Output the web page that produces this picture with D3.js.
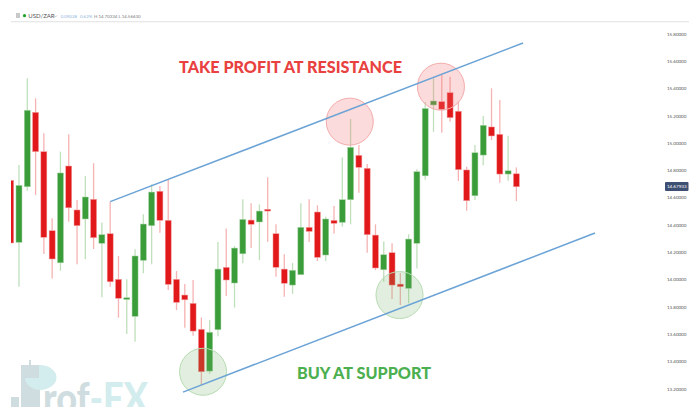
<!DOCTYPE html>
<html><head><meta charset="utf-8">
<script src="https://cdn.jsdelivr.net/npm/d3@7/dist/d3.min.js"></script>
<style>html,body{margin:0;padding:0;background:#fff;overflow:hidden}svg{display:block}</style>
</head><body><svg id="c" width="700" height="418"></svg>
<script>
const bodyTops=[14.726,14.689,15.239,15.224,14.936,14.357,14.780,14.831,14.509,14.604,14.587,14.328,14.335,14.001,13.866,14.172,14.406,14.640,14.646,14.433,14.001,13.886,13.825,13.635,13.613,14.076,14.089,14.230,14.440,14.435,14.501,14.514,14.335,14.076,14.067,14.382,14.382,14.494,14.443,14.433,14.584,14.968,14.909,14.814,14.325,14.181,14.196,13.966,14.296,14.789,15.252,15.307,15.302,15.368,15.232,14.802,14.928,15.129,15.117,15.063,14.796,14.774];
const bodyBottoms=[14.267,14.272,14.679,14.936,14.309,14.150,14.122,14.525,14.394,14.443,14.306,14.265,13.983,13.862,13.854,13.730,14.140,14.394,14.433,13.964,13.832,13.851,13.622,13.324,13.329,13.632,13.996,13.974,14.188,14.404,14.421,14.501,14.089,13.972,13.959,14.035,14.352,14.162,14.179,14.411,14.418,14.584,14.821,14.328,14.084,14.071,13.959,13.947,13.935,14.265,14.759,15.278,15.246,15.185,14.804,14.577,14.613,14.911,15.051,14.772,14.772,14.679];
const highs=[14.726,14.838,15.473,15.327,15.070,14.448,14.936,15.063,14.582,14.758,14.851,14.418,14.569,14.172,14.001,14.221,14.477,14.697,14.684,14.728,14.062,13.966,13.996,13.722,13.703,14.274,14.374,14.245,14.587,14.558,14.550,14.748,14.404,14.184,14.120,14.558,14.587,14.543,14.459,14.538,14.895,15.175,14.985,14.846,14.404,14.279,14.265,14.047,14.331,14.807,15.300,15.473,15.498,15.485,15.302,14.826,14.985,15.197,15.400,15.314,15.053,14.821];
const lows=[14.267,13.947,14.650,14.618,14.186,14.008,14.064,14.423,14.111,14.150,14.223,13.869,13.947,13.720,13.600,13.544,14.045,14.111,14.342,13.922,13.776,13.646,13.588,13.226,13.307,13.585,13.879,13.794,14.118,14.230,14.142,14.276,14.020,13.873,13.895,14.035,14.274,14.135,14.133,14.335,14.386,14.404,14.635,14.196,14.069,13.983,13.857,13.813,13.825,14.081,14.731,15.082,15.075,15.155,14.721,14.503,14.582,14.836,15.021,14.709,14.723,14.574];
const upFlags=[0,1,1,0,0,0,1,0,0,1,0,1,0,0,1,1,1,1,0,0,0,0,0,0,1,1,0,1,1,0,1,0,0,0,1,1,0,0,1,0,1,1,0,0,0,1,0,0,1,1,1,1,0,0,0,0,1,1,0,0,1,0];
const yTicks=[15.8,15.6,15.4,15.2,15.0,14.8,14.6,14.4,14.2,14.0,13.8,13.6,13.4,13.2];
const lastPrice=14.67933;
const upperChannelIdx=[12,61.8], upperChannelPrice=[14.570,15.732];
const lowerChannelIdx=[20.78,70.48], lowerChannelPrice=[13.175,14.340];
const resistanceIdx=[40.9,51.9], resistancePrice=[15.156,15.412];
const supportIdx=[23.2,46.9], supportPrice=[13.324,13.886];
const symbol="USD/ZAR", change="0.09028", changePct="0.62%", hiLo="H 14.70334 L 14.56630";

const svg=d3.select("#c");
const x=d3.scaleLinear().domain([0,61]).range([10.7,516.4]);
const y=d3.scaleLinear().domain([13.2,15.8]).range([388.7,33.7]);
const RED="#e2191b",GREEN="#3a9d3a";
const font="Lato, 'Open Sans', sans-serif";
svg.append("defs").append("clipPath").attr("id","plot").append("rect").attr("x",11).attr("y",22).attr("width",660).attr("height",385);
svg.select("defs").append("clipPath").attr("id","wm").append("rect").attr("x",0).attr("y",340).attr("width",200).attr("height",67);

// header
svg.append("rect").attr("x",16).attr("y",13).attr("width",4).attr("height",5).attr("fill","#c9c9c9");
svg.append("circle").attr("cx",24.5).attr("cy",15.7).attr("r",1.6).attr("fill","#1fa32a");
const hdr=svg.append("g").attr("font-family",font).attr("font-size",4.4);
hdr.append("text").attr("x",28.3).attr("y",18.2).attr("font-size",6).attr("fill","#555").text(symbol);
hdr.append("path").attr("d","M54 15.5l1.5 1.5l1.5-1.5").attr("fill","none").attr("stroke","#999").attr("stroke-width",.6);
hdr.append("text").attr("x",60.7).attr("y",17.7).attr("fill","#8fb4dc").text(change);
hdr.append("text").attr("x",80).attr("y",17.7).attr("fill","#8fb4dc").text(changePct);
hdr.append("text").attr("x",94).attr("y",17.7).attr("fill","#777").text(hiLo);
svg.append("rect").attr("x",11).attr("y",21).attr("width",678).attr("height",1.3).attr("fill","#e8e8e8");

// watermark
const wm=svg.append("g").attr("clip-path","url(#wm)");
wm.append("rect").attr("x",11).attr("y",397).attr("width",8).attr("height",12).attr("fill","#d0dde0");
wm.append("rect").attr("x",21).attr("y",365).attr("width",19).attr("height",44).attr("fill","#d0dde0");
wm.append("rect").attr("x",29).attr("y",360).attr("width",2).attr("height",5).attr("fill","#d0dde0");
wm.append("path").attr("d","M25 378H39V365H40A16.5 12.5 0 0 1 40 390A16 12 0 0 1 25 378Z").attr("fill","#d3ecee");
const wmText=wm.append("text").attr("x",43).attr("y",413).attr("font-family",font).attr("font-weight",900).attr("font-size",42).attr("textLength",105).attr("lengthAdjust","spacingAndGlyphs");
wmText.append("tspan").attr("fill","#d0dde0").text("rof");
wmText.append("tspan").attr("fill","#d3ecee").text("-FX");

// axis
const axis=d3.axisRight(y).tickValues(yTicks).tickSize(0).tickPadding(0).tickFormat(d3.format(".5f"));
const ax=svg.append("g").attr("transform","translate(667,0)").call(axis);
ax.select(".domain").remove();
ax.selectAll("text").attr("font-family",font).attr("font-size",4.5).attr("fill","#555");

// candles
const idx=d3.range(bodyTops.length);
const plot=svg.append("g").attr("clip-path","url(#plot)");
plot.selectAll(".wick").data(idx).join("line").attr("class","wick")
  .attr("x1",i=>x(i)).attr("x2",i=>x(i)).attr("y1",i=>y(highs[i])).attr("y2",i=>y(lows[i]))
  .attr("stroke",i=>upFlags[i]?"#bfe0bb":"#f6b3b3").attr("stroke-width",1.3);
plot.selectAll(".body").data(idx).join("rect").attr("class","body")
  .attr("x",i=>x(i)-3).attr("width",6)
  .attr("y",i=>y(bodyTops[i])).attr("height",i=>Math.max(1.2,y(bodyBottoms[i])-y(bodyTops[i])))
  .attr("fill",i=>upFlags[i]?GREEN:RED)
  .attr("stroke",i=>upFlags[i]?"#a9d4a5":"#f3a3a3").attr("stroke-width",.5);

// circles
const circ=svg.append("g");
circ.selectAll(".r").data(resistanceIdx).join("circle").attr("class","r")
  .attr("cx",d=>x(d)).attr("cy",(d,i)=>y(resistancePrice[i])).attr("r",23.5)
  .attr("fill","rgba(238,110,110,.25)").attr("stroke","#f4abab").attr("stroke-width",1);
circ.selectAll(".s").data(supportIdx).join("circle").attr("class","s")
  .attr("cx",d=>x(d)).attr("cy",(d,i)=>y(supportPrice[i])).attr("r",23.5)
  .attr("fill","rgba(110,175,100,.2)").attr("stroke","#b6dcb1").attr("stroke-width",1);

// channel lines
const line=d3.line().x(d=>x(d[0])).y(d=>y(d[1]));
[[upperChannelIdx,upperChannelPrice],[lowerChannelIdx,lowerChannelPrice]].forEach(([a,b])=>{
  svg.append("path").attr("d",line(d3.zip(a,b))).attr("fill","none").attr("stroke","#6ba3d6").attr("stroke-width",1.5);
});

// last price badge
svg.append("rect").attr("x",665).attr("y",182).attr("width",23.5).attr("height",9).attr("rx",1).attr("fill","#3d4f73");
svg.append("text").attr("x",676.8).attr("y",y(lastPrice)+1.7).attr("text-anchor","middle").attr("font-family",font).attr("font-size",4.6).attr("fill","#fff").text(d3.format(".5f")(lastPrice));

// annotations
svg.append("text").attr("x",290.5).attr("y",73).attr("text-anchor","middle").attr("font-family",font).attr("font-weight",900).attr("font-size",17.5).attr("textLength",223).attr("lengthAdjust","spacingAndGlyphs").attr("fill","#e8413f").text("TAKE PROFIT AT RESISTANCE");
svg.append("text").attr("x",364).attr("y",379).attr("text-anchor","middle").attr("font-family",font).attr("font-weight",900).attr("font-size",17.5).attr("textLength",134).attr("lengthAdjust","spacingAndGlyphs").attr("fill","#4caf50").text("BUY AT SUPPORT");
</script></body></html>
